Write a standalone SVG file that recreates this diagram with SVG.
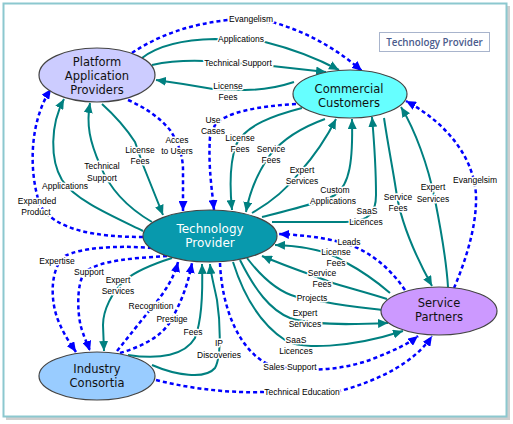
<svg xmlns="http://www.w3.org/2000/svg" width="513" height="424" viewBox="0 0 513 424">
<style>
.t{fill:none;stroke:#008080;stroke-width:2}
.b{fill:none;stroke:#0000ff;stroke-width:2.5;stroke-dasharray:4 3}
.ta{marker-end:url(#at)}
.ba{marker-end:url(#ab)}
.lbl{font-family:"Liberation Sans",Arial,sans-serif;font-size:8.5px;fill:#000;text-anchor:middle;stroke:#fff;stroke-width:3px;paint-order:stroke;stroke-linejoin:round}
.nt{font-family:"DejaVu Sans",Verdana,sans-serif;font-size:11.5px;fill:#111;text-anchor:middle}
.node{stroke:#444;stroke-width:1.2}
</style>
<defs>
<marker id="at" markerUnits="userSpaceOnUse" markerWidth="10" markerHeight="9" refX="10" refY="4.5" orient="auto"><path d="M0,0 L10,4.5 L0,9 z" fill="#008080"/></marker>
<marker id="ab" markerUnits="userSpaceOnUse" markerWidth="10" markerHeight="9" refX="10" refY="4.5" orient="auto"><path d="M0,0 L10,4.5 L0,9 z" fill="#0000ff"/></marker>
</defs>
<rect x="6" y="6" width="504" height="414" fill="#cfcfcf"/>
<rect x="3.5" y="3.5" width="503" height="413" fill="#fff" stroke="#8cc8cf" stroke-width="2"/>
<g id="title">
<rect x="379.5" y="32.5" width="110" height="19" fill="#fff" stroke="#a8b4cc" stroke-width="1"/>
<text x="434.5" y="45.5" font-family="Open Sans,DejaVu Sans,sans-serif" font-size="9.8px" font-weight="600" fill="#4b5b8c" text-anchor="middle">Technology Provider</text>
</g>
<g id="connectors">
<path class="b ba" d="M132,53 Q172,26 228,20 L272,22 Q322,36 362,71"/>
<path class="t ta" d="M142,58 Q165,40 215,39 L265,42 Q305,52 339,70"/>
<path class="t ta" d="M152,65 Q175,60 204,61 L272,66 Q300,69 326,72"/>
<path class="t ta" d="M294,82 Q270,90 245,90 L213,89 Q185,84 156,80"/>
<path class="b ba" d="M296,104 C260,106 225,112 215,125 L210,137 C208,165 212,190 214,210"/>
<path class="b ba" d="M128,100 Q155,112 170,130 Q183,150 183,170 L183,211"/>
<path class="t ta" d="M102,104 Q122,122 135,142 L143,165 Q153,190 163,215"/>
<path class="t ta" d="M152,222 C128,208 110,190 100,165 C90,142 86,125 90,103"/>
<path class="t ta" d="M143,231 C110,215 75,200 62,180 C50,160 50,125 64,99"/>
<path class="b ba" d="M143,237 C95,237 55,230 40,205 C28,170 30,120 51,89"/>
<path class="t ta" d="M302,108 C275,115 245,125 236,145 C229,165 230,190 232,210"/>
<path class="t ta" d="M325,119 C300,128 282,140 270,155 C258,172 250,190 246,212"/>
<path class="t ta" d="M252,213 C275,200 290,185 300,172 C315,155 328,135 336,119"/>
<path class="t ta" d="M262,217 C290,210 320,203 335,195 C350,185 353,160 352,119"/>
<path class="t ta" d="M272,222 L345,222 C370,222 376,212 376,195 C376,170 374,140 372,117"/>
<path class="t ta" d="M384,118 C388,145 393,170 396,190 C400,220 415,255 432,286"/>
<path class="t ta" d="M448,287 C446,255 440,225 435,200 C428,165 415,130 401,107"/>
<path class="b ba" d="M454,288 C466,260 477,225 476,195 C474,160 450,125 406,101"/>
<path class="b ba" d="M405,290 C390,268 370,252 350,245 C325,237 300,235 279,234"/>
<path class="t ta" d="M390,293 C375,280 360,270 345,262 C330,252 305,246 275,245"/>
<path class="t ta" d="M387,299 C365,292 345,287 330,282 C310,274 285,266 262,256"/>
<path class="t" d="M247,258 C260,275 278,292 297,297 L325,302 C345,306 365,308 382,310"/>
<path class="t ta" d="M240,260 C255,290 270,310 290,318 C310,325 345,325 388,323"/>
<path class="t ta" d="M233,262 C245,300 262,325 285,340 C300,350 350,348 403,331"/>
<path class="b ba" d="M220,263 C222,310 240,352 270,365 C300,372 340,372 375,358 C395,350 408,344 418,336"/>
<path class="b ba" d="M156,380 C195,390 235,393 262,392 L340,391 C380,380 415,362 432,336"/>
<path class="b ba" d="M152,248 C115,245 80,248 65,256 C50,268 50,300 58,320 C64,335 70,343 76,352"/>
<path class="b ba" d="M167,256 C135,258 100,260 85,272 C75,285 78,320 82,330 C85,340 88,345 90,351"/>
<path class="t ta" d="M172,258 C150,265 135,272 125,280 C112,292 103,310 103,325 L104,351"/>
<path class="b ba" d="M117,351 C130,335 140,322 150,310 C165,292 174,278 178,262"/>
<path class="b ba" d="M120,353 C140,347 160,338 170,322 C180,305 188,285 192,263"/>
<path class="t ta" d="M128,355 C160,360 185,355 195,338 C202,320 203,295 202,264"/>
<path class="t ta" d="M152,365 C175,375 205,380 215,368 C222,355 220,320 217,300 C214,285 211,275 210,264"/>
</g>
<g id="labels">
<text class="lbl" x="251" y="22">Evangelism</text>
<text class="lbl" x="241" y="42">Applications</text>
<text class="lbl" x="238" y="66">Technical Support</text>
<text class="lbl" x="228" y="89">License</text><text class="lbl" x="228" y="100">Fees</text>
<text class="lbl" x="213" y="123">Use</text><text class="lbl" x="213" y="134">Cases</text>
<text class="lbl" x="177" y="143">Acces</text><text class="lbl" x="177" y="154">to Users</text>
<text class="lbl" x="140" y="153">License</text><text class="lbl" x="140" y="164">Fees</text>
<text class="lbl" x="102" y="169">Technical</text><text class="lbl" x="102" y="181">Support</text>
<text class="lbl" x="65" y="189">Applications</text>
<text class="lbl" x="37" y="204">Expanded</text><text class="lbl" x="36" y="215">Product</text>
<text class="lbl" x="240" y="141">License</text><text class="lbl" x="240" y="152">Fees</text>
<text class="lbl" x="271" y="152">Service</text><text class="lbl" x="271" y="163">Fees</text>
<text class="lbl" x="302" y="173">Expert</text><text class="lbl" x="302" y="184">Services</text>
<text class="lbl" x="335" y="193">Custom</text><text class="lbl" x="333" y="204">Applications</text>
<text class="lbl" x="367" y="214">SaaS</text><text class="lbl" x="366" y="225">Licences</text>
<text class="lbl" x="398" y="200">Service</text><text class="lbl" x="398" y="211">Fees</text>
<text class="lbl" x="433" y="190">Expert</text><text class="lbl" x="433" y="202">Services</text>
<text class="lbl" x="475" y="183">Evangelsim</text>
<text class="lbl" x="349" y="245">Leads</text>
<text class="lbl" x="336" y="255">License</text><text class="lbl" x="336" y="266">Fees</text>
<text class="lbl" x="322" y="276">Service</text><text class="lbl" x="322" y="287">Fees</text>
<text class="lbl" x="312" y="301">Projects</text>
<text class="lbl" x="305" y="316">Expert</text><text class="lbl" x="305" y="327">Services</text>
<text class="lbl" x="296" y="343">SaaS</text><text class="lbl" x="296" y="354">Licences</text>
<text class="lbl" x="290" y="370">Sales Support</text>
<text class="lbl" x="302" y="395">Technical Education</text>
<text class="lbl" x="57" y="264">Expertise</text>
<text class="lbl" x="89" y="275">Support</text>
<text class="lbl" x="118" y="283">Expert</text><text class="lbl" x="118" y="294">Services</text>
<text class="lbl" x="151" y="309">Recognition</text>
<text class="lbl" x="172" y="322">Prestige</text>
<text class="lbl" x="193" y="335">Fees</text>
<text class="lbl" x="219" y="346">IP</text><text class="lbl" x="219" y="358">Discoveries</text>
</g>
<g id="platform">
<ellipse class="node" cx="97" cy="75" rx="58" ry="27" fill="#ccccff"/>
<text class="nt" x="97" y="66">Platform</text>
<text class="nt" x="97" y="80">Application</text>
<text class="nt" x="97" y="94">Providers</text>
</g>
<g id="commercial">
<ellipse class="node" cx="350" cy="94" rx="57" ry="24" fill="#66ffff"/>
<text class="nt" x="349" y="93">Commercial</text>
<text class="nt" x="349" y="107">Customers</text>
</g>
<g id="techprovider">
<ellipse class="node" cx="210" cy="236" rx="67" ry="26" fill="#0899ad"/>
<text class="nt" x="210" y="233" style="fill:#fff;font-size:12px">Technology</text>
<text class="nt" x="210" y="247" style="fill:#fff;font-size:12px">Provider</text>
</g>
<g id="servicepartners">
<ellipse class="node" cx="439" cy="311" rx="58" ry="24" fill="#cc99ff"/>
<text class="nt" x="439" y="307">Service</text>
<text class="nt" x="439" y="321">Partners</text>
</g>
<g id="industry">
<ellipse class="node" cx="97" cy="376" rx="58" ry="24" fill="#99ccff"/>
<text class="nt" x="97" y="373">Industry</text>
<text class="nt" x="97" y="387">Consortia</text>
</g>
</svg>
